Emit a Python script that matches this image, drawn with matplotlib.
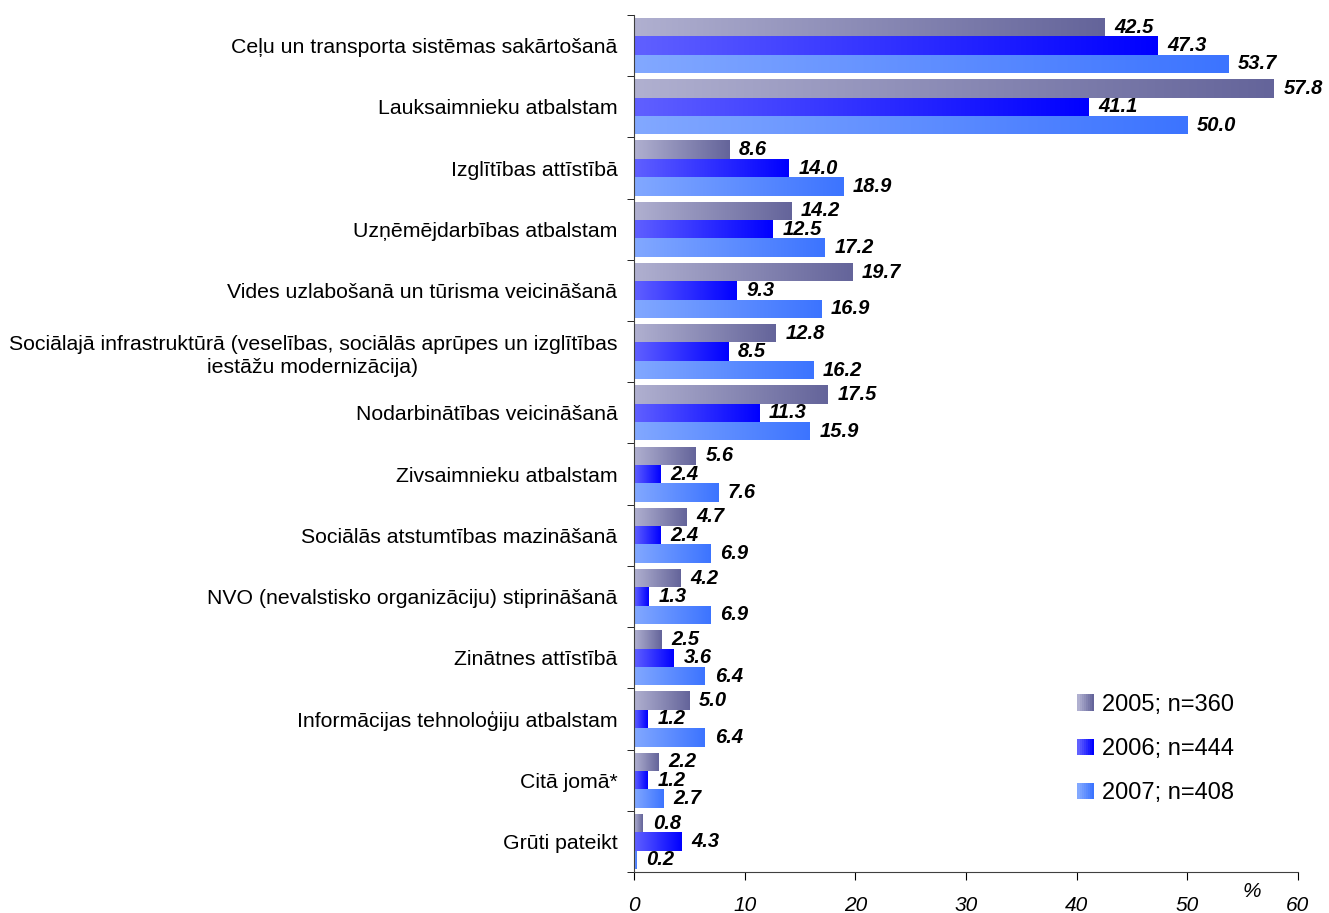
import numpy as np
import matplotlib
matplotlib.use("Agg")
from matplotlib import pyplot as plt
from matplotlib.colors import LinearSegmentedColormap
from matplotlib.legend_handler import HandlerBase
from matplotlib.patches import Rectangle

plt.rcParams["font.family"] = ["Liberation Sans", "DejaVu Sans"]

categories = [
    "Ceļu un transporta sistēmas sakārtošanā",
    "Lauksaimnieku atbalstam",
    "Izglītības attīstībā",
    "Uzņēmējdarbības atbalstam",
    "Vides uzlabošanā un tūrisma veicināšanā",
    "Sociālajā infrastruktūrā (veselības, sociālās aprūpes un izglītības\niestāžu modernizācija)",
    "Nodarbinātības veicināšanā",
    "Zivsaimnieku atbalstam",
    "Sociālās atstumtības mazināšanā",
    "NVO (nevalstisko organizāciju) stiprināšanā",
    "Zinātnes attīstībā",
    "Informācijas tehnoloģiju atbalstam",
    "Citā jomā*",
    "Grūti pateikt",
]
v2005 = [42.5, 57.8, 8.6, 14.2, 19.7, 12.8, 17.5, 5.6, 4.7, 4.2, 2.5, 5.0, 2.2, 0.8]
v2006 = [47.3, 41.1, 14.0, 12.5, 9.3, 8.5, 11.3, 2.4, 2.4, 1.3, 3.6, 1.2, 1.2, 4.3]
v2007 = [53.7, 50.0, 18.9, 17.2, 16.9, 16.2, 15.9, 7.6, 6.9, 6.9, 6.4, 6.4, 2.7, 0.2]
series_labels = ["2005; n=360", "2006; n=444", "2007; n=408"]
x_ticks = [0, 10, 20, 30, 40, 50, 60]

# gradient (light -> dark) for each series
grads = [("#b0b0d0", "#64649a"), ("#6060ff", "#0000ff"), ("#82a8ff", "#3c74ff")]


class GradientHandler(HandlerBase):
    def __init__(self, c0, c1):
        super().__init__()
        self.c0, self.c1 = c0, c1

    def create_artists(self, legend, orig, xd, yd, w, h, fs, trans):
        cmap = LinearSegmentedColormap.from_list("g", [self.c0, self.c1])
        n = 8
        side = min(w, h)
        x0 = xd + w - side
        arts = []
        for i in range(n):
            arts.append(Rectangle((x0 + i * side / n, yd), side / n + 0.2, side,
                                  facecolor=cmap(i / (n - 1)), edgecolor="none",
                                  transform=trans))
        return arts


fig = plt.figure(figsize=(13.29, 9.13), dpi=100)
ax = fig.add_axes([0.477, 0.0449, 0.4996, 0.9387])

y = np.arange(len(categories))
h = 0.3
handles = []
for k, (vals, (c0, c1)) in enumerate(zip([v2005, v2006, v2007], grads)):
    pos = y + (k - 1) * h
    bars = ax.barh(pos, vals, height=h, color=c1, edgecolor="none")
    handles.append(bars)
    cmap = LinearSegmentedColormap.from_list(f"g{k}", [c0, c1])
    grad = np.linspace(0, 1, 256).reshape(1, -1)
    for b, v, p in zip(bars, vals, pos):
        im = ax.imshow(grad, cmap=cmap, aspect="auto", interpolation="bilinear",
                       extent=(0, v, p + h / 2, p - h / 2), zorder=2)
        im.set_clip_path(b)
        ax.text(v + 0.9, p, f"{v:.1f}", ha="left", va="center", fontsize=14.5,
                fontweight="bold", fontstyle="italic", zorder=3)

ax.set_xlim(0, 60)
ax.set_ylim(len(categories) - 0.5, -0.5)

ax.set_yticks(y)
ax.set_yticklabels(categories, fontsize=15.3, ha="right", multialignment="center",
                   linespacing=1.3)
ax.tick_params(axis="y", which="major", length=0, pad=12)
ax.set_yticks(np.arange(len(categories) + 1) - 0.5, minor=True)
ax.tick_params(axis="y", which="minor", length=5, direction="out")

ax.set_xticks(x_ticks)
ax.set_xticklabels([str(t) for t in x_ticks], fontsize=15, fontstyle="italic")
ax.tick_params(axis="x", length=6, direction="out", pad=11)

for s in ["top", "right"]:
    ax.spines[s].set_visible(False)
ax.spines["left"].set_color("#404040")
ax.spines["bottom"].set_color("#404040")

ax.text(55.8, 13.82, "%", fontsize=15, fontstyle="italic", ha="center", va="center",
        clip_on=False)

leg = ax.legend(handles, series_labels, loc="lower left", bbox_to_anchor=(0.636, 0.054),
                frameon=False, fontsize=17, labelspacing=0.95, handlelength=0.7,
                handletextpad=0.35,
                handler_map={handles[i]: GradientHandler(*grads[i]) for i in range(3)})

fig.savefig("out.png", dpi=100)
